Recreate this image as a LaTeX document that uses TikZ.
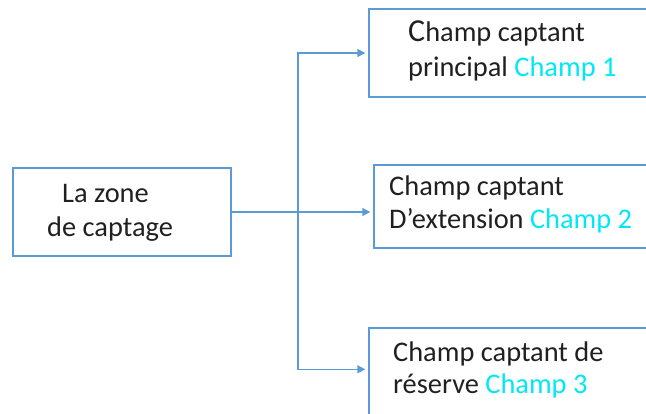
\documentclass[tikz,border=0pt]{standalone}
\usepackage{fontspec}
\setmainfont{Carlito}
\usetikzlibrary{arrows.meta}
\definecolor{edgeblue}{HTML}{5B9BD5}
\definecolor{champcyan}{HTML}{00E8F8}
\definecolor{ink}{HTML}{202020}
\tikzset{
  box/.style={draw=edgeblue, line width=1.4pt, fill=white, inner sep=0pt},
  link/.style={draw=edgeblue, line width=1.4pt},
  arrowlink/.style={link, -{Triangle[length=8pt,width=8pt]}, shorten >=3pt},
  txt/.style={anchor=base west, inner sep=0pt, text=ink,
    font=\fontsize{28.4}{34}\selectfont},
}
\newcommand{\champ}[1]{\textcolor{champcyan}{#1}}
\begin{document}
\begin{tikzpicture}[x=1pt,y=-1pt]
  \useasboundingbox (0,0) rectangle (646,414);
  \clip (0,0) rectangle (646,414);

  % boxes
  \node[box, minimum width=218pt, minimum height=88pt] (zone) at (122,212) {};
  \node[box, minimum width=331pt, minimum height=88pt] (c1) at (534.5,53) {};
  \node[box, minimum width=326pt, minimum height=83pt] (c2) at (537,206.5) {};
  \node[box, minimum width=331pt, minimum height=100pt] (c3) at (534.5,378) {};

  % labels
  \node[txt] (zoneA) at (62,203) {La zone};
  \node[txt] (zoneB) at (47,237) {de captage};
  \node[txt] (c1A) at (408,42) {{\fontsize{32}{34}\selectfont C}hamp captant};
  \node[txt] (c1B) at (408,77) {principal \champ{Champ 1}};
  \node[txt] (c2A) at (389,196) {Champ captant};
  \node[txt] (c2B) at (389,229) {D’extension \champ{Champ 2}};
  \node[txt] (c3A) at (393,362) {Champ captant de};
  \node[txt] (c3B) at (393,394) {réserve \champ{Champ 3}};

  % connectors
  \coordinate (fork) at (298,212);
  \draw[arrowlink] (zone.east) -- (zone.east -| c2.west);
  \draw[arrowlink] (fork) |- (c1.west);
  \draw[arrowlink] (fork) |- ([yshift=-42pt]c3.north west);
\end{tikzpicture}
\end{document}
